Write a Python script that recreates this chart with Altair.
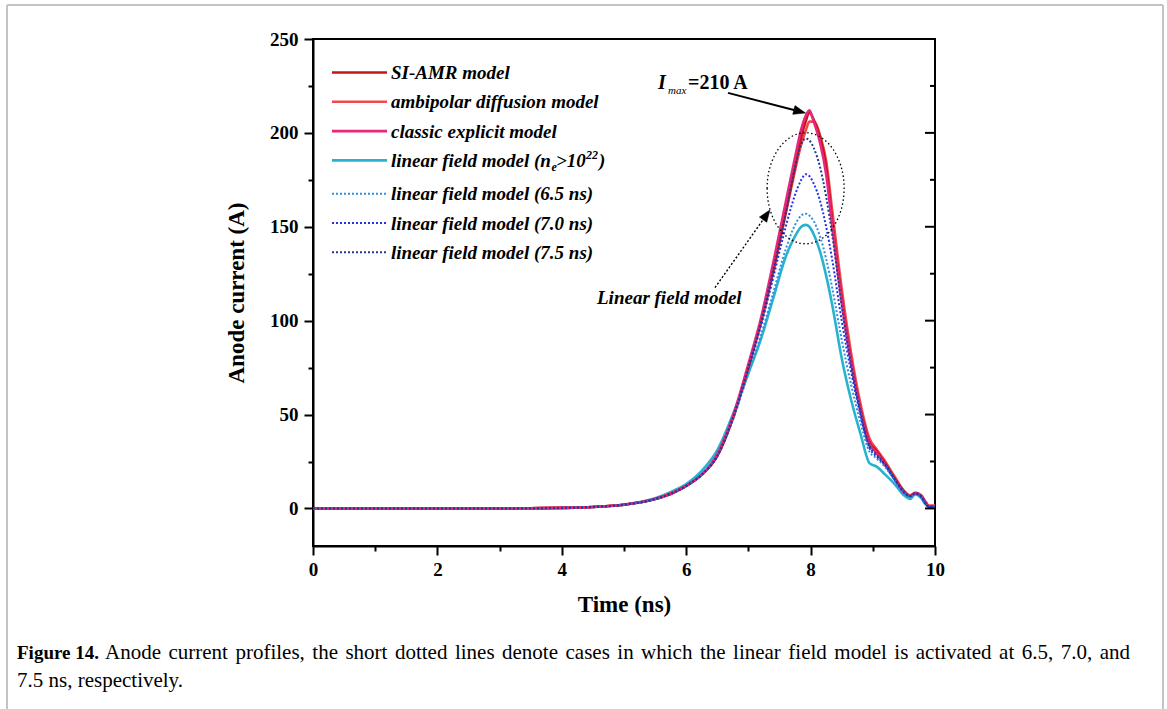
import altair as alt
import pandas as pd

# ---------------- data ----------------
T = [0, 1, 2, 3, 3.5, 4, 4.5, 5, 5.5, 5.8,
     6.0, 6.25, 6.5, 6.75, 7.0, 7.2, 7.4, 7.6, 7.75, 7.85,
     7.92, 7.98, 8.05, 8.15, 8.25, 8.35, 8.5, 8.65, 8.8, 8.95,
     9.05, 9.2, 9.35, 9.5, 9.6, 9.68, 9.78, 9.85, 9.9, 10]

SI_AMR = [0, 0, 0, 0, 0.1, 0.3, 0.8, 2, 5, 8.5,
          12, 18, 28, 48, 75, 99, 127, 158, 182, 198,
          206, 211, 207, 198, 182, 152, 112, 79, 53, 35,
          31, 24, 16, 9, 6.5, 8, 6.5, 3, 1, 1]
AMBIPOLAR = [0, 0, 0, 0, 0.1, 0.3, 0.8, 2, 5, 8.5,
             12, 18, 28, 48, 75, 99, 126, 157, 180, 194,
             201, 206, 206, 199, 185, 158, 117, 83, 56, 37,
             32, 25, 17, 9.5, 7, 8.5, 7, 3.5, 1.5, 1.5]
CLASSIC = [0, 0, 0, 0, 0.1, 0.3, 0.8, 2, 5, 8.5,
           12, 18, 29, 49, 77, 101, 131, 163, 187, 202,
           209, 212, 206, 195, 178, 150, 110, 78, 52, 34,
           30, 23, 15.5, 8.5, 6.5, 8, 6.5, 3, 1, 1]
LINEAR = [0, 0, 0, 0, 0.1, 0.3, 0.8, 2, 5.5, 9.5,
          13, 20, 31, 50, 72, 90, 112, 134, 145, 150,
          151, 150, 146, 137, 124, 108, 80, 58, 40, 24,
          22.5, 18, 13, 7, 5, 7.5, 5.5, 2, 1, 1]
L65 = [0, 0, 0, 0, 0.1, 0.3, 0.8, 2, 5, 8.5,
       12, 18, 28, 47, 72, 92, 115, 138, 151, 156,
       157, 156, 153, 145, 133, 117, 90, 66, 46, 30,
       27, 22, 15, 8, 6, 8, 6, 2.5, 1, 1]
L70 = [0, 0, 0, 0, 0.1, 0.3, 0.8, 2, 5, 8.5,
       12, 18, 28, 48, 75, 97, 123, 150, 167, 175,
       178, 177, 173, 164, 150, 132, 100, 73, 50, 32,
       28, 23, 15.5, 8.5, 6.5, 8, 6, 2.5, 1, 1]
L75 = [0, 0, 0, 0, 0.1, 0.3, 0.8, 2, 5, 8.5,
       12, 18, 28, 48, 75, 99, 127, 157, 182, 194,
       197, 196, 192, 182, 166, 145, 108, 77, 52, 33,
       29, 23.5, 16, 9, 6.5, 8, 6.5, 2.5, 1, 1]

SERIES_NAMES = ["SI-AMR model", "ambipolar diffusion model", "classic explicit model",
                "linear field model (n", "linear field model (6.5 ns)",
                "linear field model (7.0 ns)", "linear field model (7.5 ns)"]
SERIES_VALUES = [SI_AMR, AMBIPOLAR, CLASSIC, LINEAR, L65, L70, L75]
SERIES_COLORS = ["#c3161c", "#f2484c", "#e8267c", "#27b3cf", "#2f8fdc", "#2230ee", "#1f3d8e"]
SERIES_DOTTED = [False, False, False, False, True, True, True]
DRAW_ORDER = [3, 1, 0, 2, 4, 5, 6]

Y_MAJOR = [0, 50, 100, 150, 200, 250]
Y_MINOR = [25, 75, 125, 175, 225]

ELLIPSE_CENTER = (7.92, 170.5)
ARROW1 = [(6.672, 221.3), (7.793, 211.7)]
ARROW1_TIP = (7.918, 210.6)
ARROW2 = [(6.463, 117.6), (7.273, 155.5)]
ARROW2_TIP = (7.347, 159.0)

CAPTION_BOLD = "Figure 14."
CAPTION_LINE1 = ("Anode current profiles, the short dotted lines denote cases in which "
                 "the linear field model is activated at 6.5, 7.0, and")
CAPTION_LINE2 = "7.5 ns, respectively."

SERIF = "Liberation Serif"

# ---------------- scales / encodings ----------------
xscale = alt.Scale(domain=[0, 10], nice=False, zero=False)
yscale = alt.Scale(domain=[-20, 250], nice=False, zero=False)

x_axis = alt.Axis(
    values=list(range(11)), format="d", labelFlush=False,
    labelExpr="datum.value % 2 === 0 ? datum.label : ''",
    tickSize={"condition": {"test": "datum.value % 2 === 0", "value": 9}, "value": 5},
    title="Time (ns)", labelPadding=5, titlePadding=14,
)
y_axis = alt.Axis(
    values=list(range(0, 251, 25)), format="d", labelFlush=False,
    labelExpr="datum.value % 50 === 0 ? datum.label : ''",
    tickSize={"condition": {"test": "datum.value % 50 === 0", "value": 9}, "value": 5},
    title="Anode current (A)", labelPadding=6, titlePadding=21,
)
X = alt.X("t:Q", scale=xscale, axis=x_axis)
Y = alt.Y("I:Q", scale=yscale, axis=y_axis)

one = pd.DataFrame({"k": [0]})

layers = []
for idx in DRAW_ORDER:
    df = pd.DataFrame({"t": T, "I": SERIES_VALUES[idx]})
    kw = dict(color=SERIES_COLORS[idx], interpolate="monotone")
    if SERIES_DOTTED[idx]:
        kw.update(strokeDash=[2, 2], strokeWidth=2)
    else:
        kw.update(strokeWidth=2.6)
    layers.append(alt.Chart(df).mark_line(**kw).encode(x=X, y=Y))

# right-side inward ticks
W, H = 622, 507
for vals, ln in ((Y_MAJOR, 10), (Y_MINOR, 5)):
    layers.append(
        alt.Chart(pd.DataFrame({"I": vals})).mark_rule(color="black", strokeWidth=2)
        .encode(y=alt.Y("I:Q", scale=yscale), x=alt.value(W - ln), x2=alt.value(W))
    )

# ellipse highlighting the linear-field peaks
ell = "M-0.694,0A0.694,1 0 1,0 0.694,0A0.694,1 0 1,0 -0.694,0Z"
layers.append(
    alt.Chart(pd.DataFrame({"t": [ELLIPSE_CENTER[0]], "I": [ELLIPSE_CENTER[1]]}))
    .mark_point(shape=ell, size=111 * 111, filled=False, stroke="black", strokeWidth=1.3,
                strokeDash=[1.5, 2.5], opacity=1)
    .encode(x=alt.X("t:Q", scale=xscale), y=alt.Y("I:Q", scale=yscale))
)

# arrows
head = "M0,0L-2,-0.75L-2,0.75Z"
for pts, tip, dash, ang in ((ARROW1, ARROW1_TIP, None, 14.5), (ARROW2, ARROW2_TIP, [2, 2], 305.2)):
    adf = pd.DataFrame({"t": [p[0] for p in pts], "I": [p[1] for p in pts]})
    lkw = dict(color="black", strokeWidth=2 if dash is None else 1.4)
    if dash is not None:
        lkw["strokeDash"] = dash
    layers.append(alt.Chart(adf).mark_line(**lkw).encode(
        x=alt.X("t:Q", scale=xscale), y=alt.Y("I:Q", scale=yscale)))
    layers.append(
        alt.Chart(pd.DataFrame({"t": [tip[0]], "I": [tip[1]]}))
        .mark_point(shape=head, size=144, filled=True, fill="black", stroke="black",
                    strokeWidth=0.5, angle=ang, opacity=1)
        .encode(x=alt.X("t:Q", scale=xscale), y=alt.Y("I:Q", scale=yscale))
    )


def txt(text, x, y, size=19, weight="bold", style="italic", color="black", font=SERIF):
    kw = dict(text=text, font=font, fontSize=size, fontWeight=weight, align="left",
              baseline="alphabetic", color=color)
    if style:
        kw["fontStyle"] = style
    return alt.Chart(one).mark_text(**kw).encode(x=alt.value(x), y=alt.value(y))


# custom legend
for i, idx in enumerate(range(7)):
    cy = 33.5 + 29.3 * i + (4 if i >= 4 else 0)
    rkw = dict(color=SERIES_COLORS[idx])
    if SERIES_DOTTED[idx]:
        rkw.update(strokeDash=[2, 2], strokeWidth=2)
    else:
        rkw.update(strokeWidth=2.6)
    layers.append(alt.Chart(one).mark_rule(**rkw).encode(
        x=alt.value(19), x2=alt.value(74), y=alt.value(cy)))
    layers.append(txt(SERIES_NAMES[idx], 78, cy + 6.5))
    if idx == 3:
        layers.append(txt("e", 238.5, cy + 11, size=12))
        layers.append(txt(">10", 243, cy + 6.5))
        layers.append(txt("22", 273, cy - 1.5, size=12))
        layers.append(txt(")", 286, cy + 6.5))

# annotations
layers.append(txt("I", 345, 50, size=20))
layers.append(txt("max", 355, 55, size=11, weight="normal"))
layers.append(txt("=210 A", 375, 50, size=20, style=None))
layers.append(txt("Linear field model", 284, 265, size=19))

# caption (first line justified like the reference)
TIMES_W = {" ": 250, "a": 444, "b": 500, "c": 444, "d": 500, "e": 444, "f": 333, "g": 500,
           "h": 500, "i": 278, "j": 278, "k": 500, "l": 278, "m": 778, "n": 500, "o": 500,
           "p": 500, "q": 500, "r": 333, "s": 389, "t": 278, "u": 500, "v": 500, "w": 722,
           "x": 500, "y": 500, "z": 444, "A": 722, ",": 250, ".": 250}
CAP_SIZE = 21
cap_left, cap_right = -296, 817


def wwidth(w):
    return sum(TIMES_W.get(c, 500) for c in w) * CAP_SIZE / 1000.0


layers.append(txt(CAPTION_BOLD, cap_left, 620, size=19, style=None))
words = CAPTION_LINE1.split(" ")
start = cap_left + 88
total = sum(wwidth(w) for w in words)
gap = (cap_right - start - total) / (len(words) - 1)
xpos = start
for w in words:
    layers.append(txt(w, xpos, 620, size=CAP_SIZE, weight="normal", style=None))
    xpos += wwidth(w) + gap
layers.append(txt(CAPTION_LINE2, cap_left, 648, size=CAP_SIZE, weight="normal", style=None))

# light outer frame
for enc in (dict(x=alt.value(-306), y=alt.value(-34), y2=alt.value(700)),
            dict(x=alt.value(850), y=alt.value(-34), y2=alt.value(700)),
            dict(x=alt.value(-306), x2=alt.value(850), y=alt.value(-34))):
    layers.append(alt.Chart(one).mark_rule(color="#c4c4c4", strokeWidth=2).encode(**enc))

chart = alt.layer(*layers).properties(
    width=W, height=H,
    padding={"left": 313, "top": 39, "right": 232, "bottom": 163},
    autosize=alt.AutoSizeParams(type="none"),
    background="white",
).configure_axis(
    domainColor="black", domainWidth=2, tickColor="black", tickWidth=2, grid=False,
    labelFont=SERIF, labelFontWeight="bold", labelFontSize=19, labelColor="black",
    titleFont=SERIF, titleFontWeight="bold", titleFontSize=23, titleColor="black",
).configure_view(stroke="black", strokeWidth=2)

chart.save("out.html", embed_options={"renderer": "svg", "actions": False})
